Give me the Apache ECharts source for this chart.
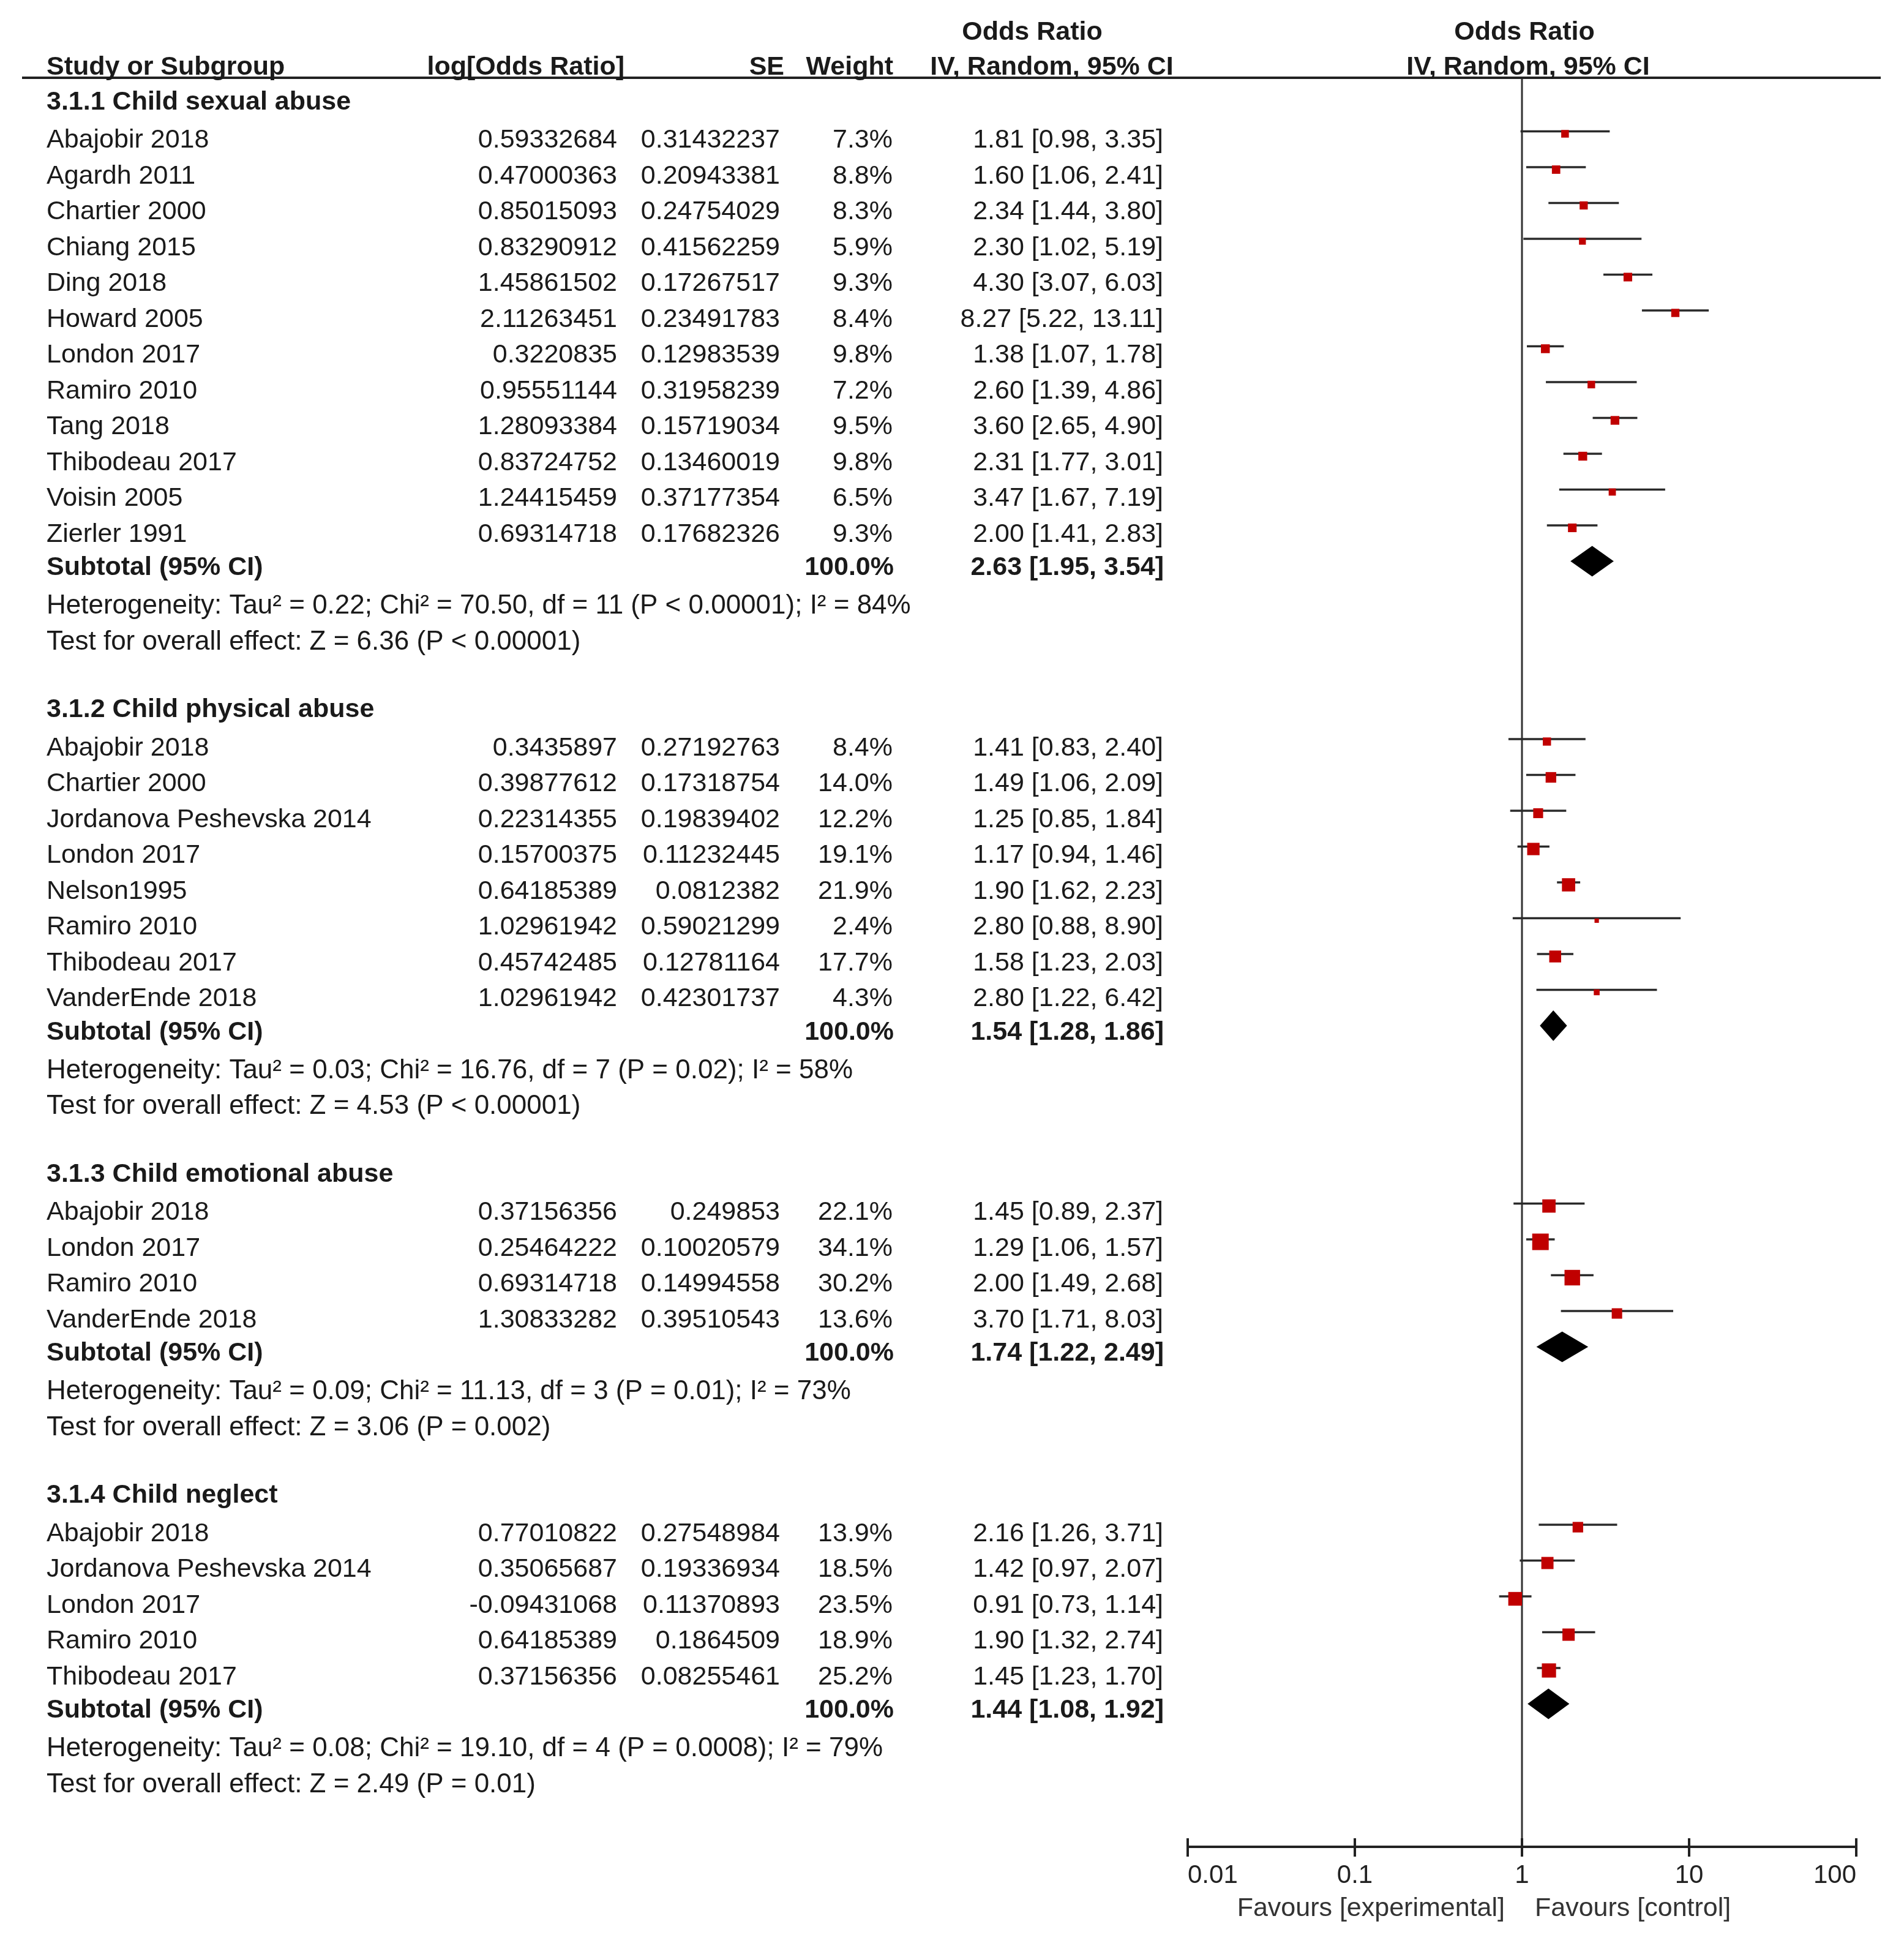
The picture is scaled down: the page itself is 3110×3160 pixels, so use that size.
<!DOCTYPE html>
<html><head><meta charset="utf-8">
<script src="https://cdn.jsdelivr.net/npm/echarts@6/dist/echarts.min.js"></script>
<style>html,body{margin:0;padding:0;background:#fff}#c{width:3110px;height:3160px}</style>
</head><body><div id="c"></div>
<script>
// ---------------- DATA ----------------
const groupTitles = ['3.1.1 Child sexual abuse', '3.1.2 Child physical abuse', '3.1.3 Child emotional abuse', '3.1.4 Child neglect'];

const studies1 = ['Abajobir 2018','Agardh 2011','Chartier 2000','Chiang 2015','Ding 2018','Howard 2005','London 2017','Ramiro 2010','Tang 2018','Thibodeau 2017','Voisin 2005','Zierler 1991'];
const logOR1 = [0.59332684,0.47000363,0.85015093,0.83290912,1.45861502,2.11263451,0.3220835,0.95551144,1.28093384,0.83724752,1.24415459,0.69314718];
const se1 = [0.31432237,0.20943381,0.24754029,0.41562259,0.17267517,0.23491783,0.12983539,0.31958239,0.15719034,0.13460019,0.37177354,0.17682326];
const weight1 = [7.3,8.8,8.3,5.9,9.3,8.4,9.8,7.2,9.5,9.8,6.5,9.3];
const or1 = [1.81,1.60,2.34,2.30,4.30,8.27,1.38,2.60,3.60,2.31,3.47,2.00];
const lo1 = [0.98,1.06,1.44,1.02,3.07,5.22,1.07,1.39,2.65,1.77,1.67,1.41];
const hi1 = [3.35,2.41,3.80,5.19,6.03,13.11,1.78,4.86,4.90,3.01,7.19,2.83];

const studies2 = ['Abajobir 2018','Chartier 2000','Jordanova Peshevska 2014','London 2017','Nelson1995','Ramiro 2010','Thibodeau 2017','VanderEnde 2018'];
const logOR2 = [0.3435897,0.39877612,0.22314355,0.15700375,0.64185389,1.02961942,0.45742485,1.02961942];
const se2 = [0.27192763,0.17318754,0.19839402,0.11232445,0.0812382,0.59021299,0.12781164,0.42301737];
const weight2 = [8.4,14.0,12.2,19.1,21.9,2.4,17.7,4.3];
const or2 = [1.41,1.49,1.25,1.17,1.90,2.80,1.58,2.80];
const lo2 = [0.83,1.06,0.85,0.94,1.62,0.88,1.23,1.22];
const hi2 = [2.40,2.09,1.84,1.46,2.23,8.90,2.03,6.42];

const studies3 = ['Abajobir 2018','London 2017','Ramiro 2010','VanderEnde 2018'];
const logOR3 = [0.37156356,0.25464222,0.69314718,1.30833282];
const se3 = [0.249853,0.10020579,0.14994558,0.39510543];
const weight3 = [22.1,34.1,30.2,13.6];
const or3 = [1.45,1.29,2.00,3.70];
const lo3 = [0.89,1.06,1.49,1.71];
const hi3 = [2.37,1.57,2.68,8.03];

const studies4 = ['Abajobir 2018','Jordanova Peshevska 2014','London 2017','Ramiro 2010','Thibodeau 2017'];
const logOR4 = [0.77010822,0.35065687,-0.09431068,0.64185389,0.37156356];
const se4 = [0.27548984,0.19336934,0.11370893,0.1864509,0.08255461];
const weight4 = [13.9,18.5,23.5,18.9,25.2];
const or4 = [2.16,1.42,0.91,1.90,1.45];
const lo4 = [1.26,0.97,0.73,1.32,1.23];
const hi4 = [3.71,2.07,1.14,2.74,1.70];

const subtotalOR = [2.63,1.54,1.74,1.44];
const subtotalLo = [1.95,1.28,1.22,1.08];
const subtotalHi = [3.54,1.86,2.49,1.92];
const subtotalWeight = [100.0,100.0,100.0,100.0];

const heterogeneity = [
  'Heterogeneity: Tau\u00b2 = 0.22; Chi\u00b2 = 70.50, df = 11 (P < 0.00001); I\u00b2 = 84%',
  'Heterogeneity: Tau\u00b2 = 0.03; Chi\u00b2 = 16.76, df = 7 (P = 0.02); I\u00b2 = 58%',
  'Heterogeneity: Tau\u00b2 = 0.09; Chi\u00b2 = 11.13, df = 3 (P = 0.01); I\u00b2 = 73%',
  'Heterogeneity: Tau\u00b2 = 0.08; Chi\u00b2 = 19.10, df = 4 (P = 0.0008); I\u00b2 = 79%'
];
const overallEffect = [
  'Test for overall effect: Z = 6.36 (P < 0.00001)',
  'Test for overall effect: Z = 4.53 (P < 0.00001)',
  'Test for overall effect: Z = 3.06 (P = 0.002)',
  'Test for overall effect: Z = 2.49 (P = 0.01)'
];
const axisTicks = [0.01, 0.1, 1, 10, 100];
const favoursLeft = 'Favours [experimental]';
const favoursRight = 'Favours [control]';
const colHeaders = ['Study or Subgroup', 'log[Odds Ratio]', 'SE', 'Weight', 'Odds Ratio', 'IV, Random, 95% CI'];

// ---------------- LAYOUT ----------------
const W = 3110, H = 3160;
const FONT = '"Liberation Sans", Arial, Helvetica, sans-serif';
const FS = 43;
const TXT = '#1a1a1a';
const X_NAME = 76, X_LOG = 1008, X_SE = 1274, X_W = 1458, X_CI = 1900;
const AXIS_Y = 3016, RULE_Y = 127;
const PLOT_L = 1940, PLOT_R = 3032;

const groups = [
  {s: studies1, l: logOR1, se: se1, w: weight1, or: or1, lo: lo1, hi: hi1},
  {s: studies2, l: logOR2, se: se2, w: weight2, or: or2, lo: lo2, hi: hi2},
  {s: studies3, l: logOR3, se: se3, w: weight3, or: or3, lo: lo3, hi: hi3},
  {s: studies4, l: logOR4, se: se4, w: weight4, or: or4, lo: lo4, hi: hi4}
];
const fmtCI = (o, a, b) => o.toFixed(2) + ' [' + a.toFixed(2) + ', ' + b.toFixed(2) + ']';

const texts = [];
const marks = [];
function T(x, y, t, align, bold, color, size) { texts.push({x, y, t, align: align || 'left', bold: !!bold, color: color || TXT, size: size || FS}); }

// headers
T(1686, 53, colHeaders[4], 'center', true);
T(2490, 53, colHeaders[4], 'center', true);
T(X_NAME, 110, colHeaders[0], 'left', true);
T(1020, 110, colHeaders[1], 'right', true);
T(1281, 110, colHeaders[2], 'right', true);
T(1459, 110, colHeaders[3], 'right', true);
T(1718, 110, colHeaders[5], 'center', true);
T(2496, 110, colHeaders[5], 'center', true);

let y = 167;
groups.forEach((g, gi) => {
  T(X_NAME, y, groupTitles[gi], 'left', true);
  y += 62.5;
  g.s.forEach((name, i) => {
    if (i > 0) y += 58.5;
    T(X_NAME, y, name, 'left');
    T(X_LOG, y, String(g.l[i]), 'right');
    T(X_SE, y, String(g.se[i]), 'right');
    T(X_W, y, g.w[i].toFixed(1) + '%', 'right');
    T(X_CI, y, fmtCI(g.or[i], g.lo[i], g.hi[i]), 'right');
    marks.push([g.or[i], y, g.lo[i], g.hi[i], g.w[i], 0]);
  });
  y += 54.5;
  T(X_NAME, y, 'Subtotal (95% CI)', 'left', true);
  T(X_W + 2, y, subtotalWeight[gi].toFixed(1) + '%', 'right', true);
  T(X_CI + 1, y, fmtCI(subtotalOR[gi], subtotalLo[gi], subtotalHi[gi]), 'right', true);
  marks.push([subtotalOR[gi], y, subtotalLo[gi], subtotalHi[gi], subtotalWeight[gi], 1]);
  y += 62.5;
  T(X_NAME, y, heterogeneity[gi], 'left', false, TXT, 44);
  y += 58.5;
  T(X_NAME, y, overallEffect[gi], 'left', false, TXT, 44);
  y += 111;
});
T(2458, 3117, favoursLeft, 'right', false, '#333');
T(2507, 3117, favoursRight, 'left', false, '#333');

// ---------------- CHART ----------------
const chart = echarts.init(document.getElementById('c'), null, {renderer: 'canvas', width: W, height: H});

const option = {
  backgroundColor: '#ffffff',
  animation: false,
  grid: [
    {left: 0, top: 0, width: W, height: H, show: false},
    {left: PLOT_L, top: 0, width: PLOT_R - PLOT_L, height: AXIS_Y, show: false}
  ],
  xAxis: [
    {type: 'value', gridIndex: 0, min: 0, max: W, show: false},
    {
      type: 'log', logBase: 10, gridIndex: 1,
      min: axisTicks[0], max: axisTicks[axisTicks.length - 1],
      position: 'bottom', splitLine: {show: false},
      axisLine: {show: true, onZero: false, lineStyle: {color: '#222', width: 4}},
      axisTick: {show: true, inside: false, length: 16, lineStyle: {color: '#222', width: 4}},
      axisLabel: {
        show: true, fontSize: 42, color: '#222', fontFamily: FONT, margin: 26,
        alignMinLabel: 'left', alignMaxLabel: 'right',
        showMinLabel: true, showMaxLabel: true,
        formatter: v => String(+v.toPrecision(6))
      }
    }
  ],
  yAxis: [
    {type: 'value', gridIndex: 0, min: 0, max: H, inverse: true, show: false},
    {type: 'value', gridIndex: 1, min: 0, max: AXIS_Y, inverse: true, show: false}
  ],
  series: [
    { // header rule
      type: 'line', xAxisIndex: 0, yAxisIndex: 0, symbol: 'none', silent: true,
      data: [[36, RULE_Y], [3072, RULE_Y]],
      lineStyle: {color: '#222', width: 4}, z: 3
    },
    { // line of no effect
      type: 'line', xAxisIndex: 1, yAxisIndex: 1, symbol: 'none', silent: true,
      data: [[1, RULE_Y], [1, AXIS_Y]],
      lineStyle: {color: '#333', width: 3}, z: 2
    },
    { // upper half of axis ticks (ticks cross the axis line)
      type: 'custom', xAxisIndex: 1, yAxisIndex: 1, silent: true, clip: false,
      data: axisTicks.map(t => [t, AXIS_Y]),
      renderItem: function (params, api) {
        const p = api.coord([api.value(0), api.value(1)]);
        return {type: 'line', shape: {x1: p[0], y1: p[1] - 14, x2: p[0], y2: p[1]}, style: {stroke: '#222', lineWidth: 4}};
      },
      z: 3
    },
    { // texts
      type: 'custom', xAxisIndex: 0, yAxisIndex: 0, silent: true, clip: false,
      data: texts.map(d => [d.x, d.y]),
      renderItem: function (params, api) {
        const d = texts[params.dataIndex];
        const p = api.coord([api.value(0), api.value(1)]);
        return {
          type: 'text', x: p[0], y: p[1],
          style: {
            text: d.t, fill: d.color,
            font: (d.bold ? 'bold ' : '') + d.size + 'px ' + FONT,
            align: d.align, verticalAlign: 'middle'
          }
        };
      },
      z: 5
    },
    { // forest marks
      type: 'custom', xAxisIndex: 1, yAxisIndex: 1, silent: true, clip: false,
      data: marks,
      renderItem: function (params, api) {
        const or = api.value(0), yy = api.value(1), lo = api.value(2), hi = api.value(3), w = api.value(4), kind = api.value(5);
        const c = api.coord([or, yy]);
        const l = api.coord([lo, yy]);
        const h = api.coord([hi, yy]);
        if (kind === 0) {
          const s = 4.62 * Math.sqrt(w);
          const cy = c[1] - 11, ly = c[1] - 15;
          return {
            type: 'group', children: [
              {type: 'line', shape: {x1: l[0], y1: ly, x2: h[0], y2: ly}, style: {stroke: '#2a2a2a', lineWidth: 3.5}},
              {type: 'rect', shape: {x: c[0] - s / 2, y: cy - s / 2, width: s, height: s}, style: {fill: '#c00000'}}
            ]
          };
        }
        const cy = c[1] - 11, hh = 25;
        return {
          type: 'polygon',
          shape: {points: [[l[0], cy], [c[0], cy - hh], [h[0], cy], [c[0], cy + hh]]},
          style: {fill: '#000'}
        };
      },
      z: 4
    }
  ]
};
chart.setOption(option);
</script>
</body></html>
